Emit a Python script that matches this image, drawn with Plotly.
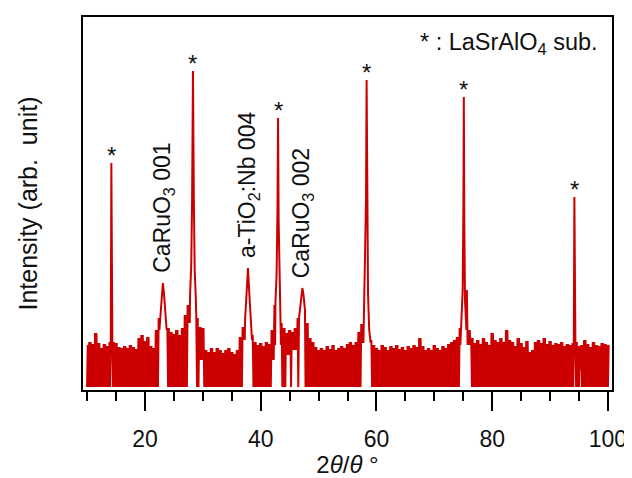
import numpy as np
import plotly.graph_objects as go

# ---------------- data ----------------
# 2theta grid of the noise bins (deg) and upper envelope of the noisy background (arb. unit)
bin_start, bin_stop, bin_step = 10.0, 100.0, 0.5
noise_top = [
    45, 48, 46, 57, 47, 42, 46, 44, 48, 48,   # 10.0 - 14.5
    47, 43, 42, 44, 42, 45, 43, 41, 52, 55,   # 15.0 - 19.5
    49, 53, 44, 42, 60, 72, 100, 75, 62, 58,  # 20.0 - 24.5
    56, 60, 55, 62, 75, 85, 110, 110, 72, 63, # 25.0 - 29.5
    62, 40, 38, 42, 38, 42, 40, 37, 40, 42,   # 30.0 - 34.5
    38, 36, 40, 53, 63, 95, 100, 55, 48, 45,  # 35.0 - 39.5
    47, 44, 48, 46, 60, 85, 100, 67, 62, 57,  # 40.0 - 44.5
    60, 58, 62, 72, 95, 90, 67, 52, 48, 43,   # 45.0 - 49.5
    40, 42, 40, 44, 41, 45, 40, 42, 44, 42,   # 50.0 - 54.5
    46, 48, 45, 48, 58, 66, 100, 100, 50, 45, # 55.0 - 59.5
    42, 40, 45, 43, 40, 44, 42, 45, 41, 43,   # 60.0 - 64.5
    40, 44, 42, 45, 43, 52, 44, 40, 42, 40,   # 65.0 - 69.5
    45, 42, 40, 44, 42, 46, 48, 50, 53, 62,   # 70.0 - 74.5
    100, 100, 60, 52, 47, 50, 46, 52, 48, 45, # 75.0 - 79.5
    57, 50, 48, 52, 48, 60, 50, 48, 44, 52,   # 80.0 - 84.5
    47, 43, 49, 38, 40, 48, 50, 47, 52, 46,   # 85.0 - 89.5
    49, 45, 47, 46, 48, 44, 46, 45, 47, 48,   # 90.0 - 94.5
    44, 45, 50, 46, 43, 48, 45, 44, 47, 46,   # 95.0 - 99.5
    45,                                       # 100.0
]
noise_floor = 3
# places where the lower edge of the noise is lifted (white slits under the band)
gap_from = [22.4, 27.3, 29.4, 37.0, 41.9, 42.5, 44.3, 45.3, 57.5, 74.4, 95.1]
gap_to = [23.8, 28.9, 30.1, 38.5, 42.4, 43.6, 45.0, 46.4, 59.1, 76.3, 95.3]
gap_floor = [60, 67, 30, 50, 30, 45, 35, 40, 47, 45, 20]

# reflections: centre (deg), profile offsets (deg) and intensities (arb. unit)
peak_center = [14.2, 23.1, 28.3, 37.8, 43.0, 47.2, 58.3, 75.1, 94.2]
peak_offset = [
    [-0.1, 0, 0.1],
    [-0.4, -0.2, 0, 0.2, 0.4],
    [-0.5, -0.3, -0.15, 0, 0.15, 0.3, 0.5],
    [-0.5, -0.25, 0, 0.25, 0.5],
    [-0.45, -0.25, -0.1, 0, 0.1, 0.25, 0.45],
    [-0.45, -0.2, 0, 0.2, 0.45],
    [-0.45, -0.25, -0.1, 0, 0.1, 0.25, 0.45],
    [-0.45, -0.2, -0.08, 0, 0.08, 0.2, 0.45],
    [-0.1, 0, 0.1],
]
peak_value = [
    [48, 227, 48],
    [75, 98, 107, 96, 75],
    [95, 125, 190, 319, 190, 120, 90],
    [70, 95, 122, 95, 62],
    [88, 115, 180, 272, 170, 110, 75],
    [78, 95, 102, 95, 80],
    [78, 110, 190, 310, 180, 95, 60],
    [65, 100, 180, 293, 170, 90, 60],
    [48, 193, 48],
]
substrate_peaks = [14.2, 28.3, 43.0, 58.3, 75.1, 94.2]
film_labels = ["CaRuO<sub>3</sub> 001", "a-TiO<sub>2</sub>:Nb 004", "CaRuO<sub>3</sub> 002"]
film_peaks = [23.1, 37.8, 47.2]
major_ticks = [20, 40, 60, 80, 100]
minor_ticks = [10, 15, 25, 30, 35, 45, 50, 55, 65, 70, 75, 85, 90, 95]

# ---------------- assemble the scan ----------------
bins = np.arange(bin_start, bin_stop + 1e-9, bin_step)
cores = [(c + min(o), c + max(o)) for c, o in zip(peak_center, peak_offset)]


def floor_at(x):
    for a, b, f in zip(gap_from, gap_to, gap_floor):
        if a <= x <= b:
            return f
    return noise_floor


pts = []
for xb, top in zip(bins, noise_top):
    for k in range(4):
        x = xb - 0.25 + k * 0.125
        if x < bin_start or any(a <= x <= b for a, b in cores):
            continue
        pts.append((x, floor_at(x) if k % 2 == 0 else top))
for c, offs, vals in zip(peak_center, peak_offset, peak_value):
    for o, v in zip(offs, vals):
        pts.append((c + o, v))
pts.sort(key=lambda p: p[0])
scan_x = [p[0] for p in pts]
scan_y = [p[1] for p in pts]

peak_top = {c: max(v) for c, v in zip(peak_center, peak_value)}

FONT = "Liberation Sans, Arial, Helvetica, sans-serif"
RED = "#cc0000"
INK = "#111111"

fig = go.Figure()
fig.add_trace(go.Scatter(x=scan_x, y=scan_y, mode="lines",
                         line=dict(color=RED, width=2), hoverinfo="skip"))

ann = []
for c in substrate_peaks:
    ann.append(dict(x=c, y=peak_top[c], text="*", showarrow=False,
                    xanchor="center", yanchor="middle", yshift=8,
                    font=dict(family=FONT, size=24, color=INK)))
for lab, c in zip(film_labels, film_peaks):
    ann.append(dict(x=c, y=peak_top[c], text=lab, showarrow=False, textangle=-90,
                    xanchor="center", yanchor="bottom", yshift=8,
                    font=dict(family=FONT, size=23, color=INK)))
ann.append(dict(x=1, y=0.93, xref="paper", yref="paper", xanchor="right",
                yanchor="middle", xshift=-12, showarrow=False,
                text="* : LaSrAlO<sub>4</sub> sub.",
                font=dict(family=FONT, size=23.5, color=INK)))

# the page body adds an 8 px margin around the figure, so the figure is 8 px smaller
fig.update_layout(
    width=624, height=470,
    margin=dict(l=75, r=20, t=9, b=88, autoexpand=False),
    paper_bgcolor="white", plot_bgcolor="white",
    showlegend=False,
    annotations=ann,
    font=dict(family=FONT, size=24, color=INK),
)
fig.update_xaxes(
    range=[9.3, 100.7], showgrid=False, zeroline=False, automargin=False,
    showline=True, mirror=True, linecolor="black", linewidth=2,
    tickmode="array", tickvals=major_ticks,
    ticks="outside", ticklen=19, tickwidth=2, tickcolor="black",
    minor=dict(tickmode="array", tickvals=minor_ticks,
               ticks="outside", ticklen=9, tickwidth=2, tickcolor="black"),
    tickfont=dict(family=FONT, size=23, color=INK),
    ticklabelstandoff=8, ticklabeloverflow="allow",
    title=dict(text="2<i>θ</i>/<i>θ</i> °", font=dict(family=FONT, size=24, color=INK), standoff=13),
)
fig.update_yaxes(
    range=[0, 373], showgrid=False, zeroline=False, automargin=False,
    showline=True, mirror=True, linecolor="black", linewidth=2,
    ticks="", showticklabels=False,
    title=dict(text="Intensity (arb.\u00a0 unit)", font=dict(family=FONT, size=25, color=INK), standoff=36),
)

fig.write_html("out.html")
